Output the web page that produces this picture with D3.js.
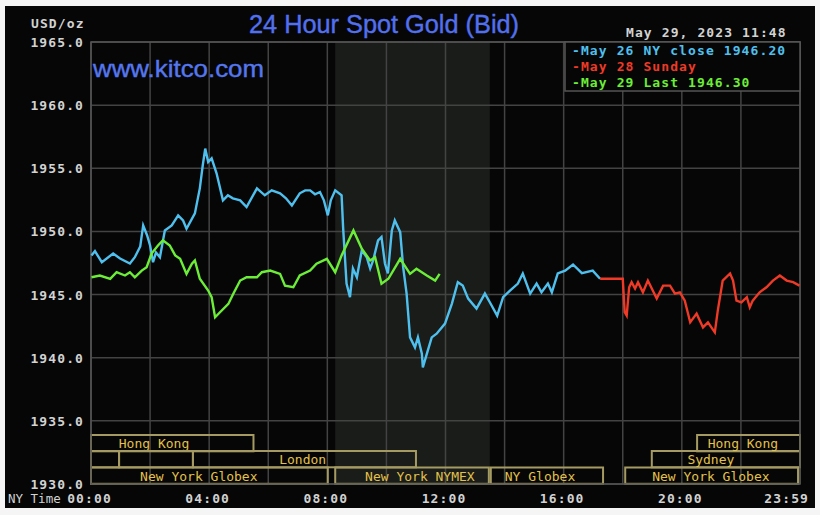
<!DOCTYPE html>
<html><head><meta charset="utf-8">
<script src="https://cdn.jsdelivr.net/npm/d3@7"></script>
<style>
html,body{margin:0;padding:0;background:#f5f5f5;}
svg{display:block;}
</style></head>
<body>
<svg id="c" width="820" height="515"></svg>
<script>
// ---- data (time as "HH:MM" NY time, value in USD/oz) ----
const yTicks = [1930, 1935, 1940, 1945, 1950, 1955, 1960, 1965];
const xTickLabels = ["00:00", "04:00", "08:00", "12:00", "16:00", "20:00", "23:59"];
const xTickMinutes = [0, 240, 480, 720, 960, 1200, 1439];
const legendLabels = ["May 26 NY close 1946.20", "May 28 Sunday", "May 29 Last 1946.30"];
const stamp = "May 29, 2023 11:48";

const may26Times = ["00:01","00:08","00:22","00:45","00:59","01:19","01:29","01:40","01:46","01:54","02:00","02:06","02:12","02:20","02:30","02:44","02:57","03:07","03:14","03:31","03:41","03:47","03:52","03:58","04:05","04:15","04:28","04:38","04:48","05:03","05:16","05:37","05:53","06:07","06:24","06:36","06:48","07:04","07:15","07:25","07:35","07:45","07:53","08:01","08:07","08:16","08:29","08:32","08:39","08:46","08:52","09:00","09:10","09:20","09:27","09:33","09:43","09:50","09:57","10:03","10:11","10:17","10:28","10:34","10:41","10:48","10:58","11:04","11:12","11:14","11:24","11:32","11:42","11:59","12:13","12:25","12:35","12:46","13:03","13:20","13:30","13:45","13:57","14:11","14:27","14:37","14:52","15:05","15:15","15:28","15:36","15:48","16:03","16:19","16:37","16:59","17:14"];
const may26Values = [1948.10,1948.44,1947.56,1948.25,1947.86,1947.46,1947.96,1948.81,1950.48,1949.68,1948.89,1947.56,1948.33,1947.96,1950.08,1950.48,1951.27,1950.87,1950.21,1951.43,1953.41,1955.24,1956.56,1955.50,1955.79,1954.60,1952.46,1952.86,1952.62,1952.46,1951.93,1953.41,1952.86,1953.25,1953.02,1952.62,1952.06,1953.02,1953.25,1953.25,1952.94,1953.12,1952.46,1951.27,1952.46,1953.25,1952.86,1950.34,1945.87,1944.79,1947.06,1946.37,1948.49,1947.96,1947.06,1947.70,1949.29,1949.55,1947.46,1946.67,1950.08,1950.87,1949.94,1947.17,1945.08,1941.61,1940.82,1941.61,1940.32,1939.23,1940.56,1941.61,1941.90,1942.70,1944.29,1945.98,1945.71,1944.68,1943.89,1945.08,1944.39,1943.33,1944.79,1945.32,1945.87,1946.67,1945.08,1945.87,1945.18,1945.87,1945.18,1946.67,1946.90,1947.38,1946.69,1946.90,1946.25];

const may28Times = ["17:14","18:00","18:04","18:08","18:13","18:18","18:25","18:31","18:41","18:51","19:09","19:22","19:36","19:46","19:56","20:06","20:17","20:30","20:43","20:53","21:07","21:13","21:23","21:38","21:44","21:51","22:01","22:12","22:18","22:24","22:38","22:52","23:05","23:19","23:33","23:46","23:59"];
const may28Values = [1946.25,1946.25,1943.60,1943.33,1945.58,1945.98,1945.48,1945.98,1945.18,1946.11,1944.68,1945.71,1945.71,1945.08,1945.18,1944.52,1942.80,1943.49,1942.40,1942.80,1942.01,1943.73,1946.11,1946.67,1946.11,1944.52,1944.39,1944.79,1943.99,1944.52,1945.18,1945.58,1946.11,1946.51,1946.11,1945.98,1945.71];

const may29Times = ["00:01","00:18","00:39","00:52","01:09","01:19","01:29","01:43","01:53","02:03","02:16","02:26","02:40","02:51","03:01","03:14","03:25","03:31","03:41","03:58","04:05","04:12","04:22","04:39","04:49","05:03","05:16","05:37","05:47","06:04","06:24","06:34","06:51","07:04","07:25","07:38","07:59","08:16","08:29","08:53","09:10","09:27","09:37","09:50","10:04","10:28","10:48","11:01","11:22","11:39","11:48"];
const may29Values = [1946.37,1946.51,1946.25,1946.77,1946.51,1946.77,1946.37,1946.90,1947.17,1948.25,1948.89,1949.29,1948.89,1948.10,1947.83,1946.64,1947.44,1947.70,1946.25,1945.32,1944.79,1943.20,1943.60,1944.26,1945.06,1946.11,1946.37,1946.37,1946.77,1946.90,1946.64,1945.71,1945.58,1946.51,1946.90,1947.44,1947.83,1946.77,1948.10,1950.08,1948.63,1947.70,1947.96,1945.85,1946.25,1947.83,1946.64,1947.04,1946.51,1946.11,1946.64];

// trading sessions: row, start, end, label anchor
const sessionNames = ["Hong Kong", "", "", "London", "New York Globex", "New York NYMEX", "NY Globex", "New York Globex", "Sydney", "Hong Kong"];
const sessionRows  = [0, 1, 1, 1, 2, 2, 2, 2, 1, 0];
const sessionStart = ["00:00","00:00","00:57","03:27","00:00","08:16","13:32","18:05","18:59","20:31"];
const sessionEnd   = ["05:30","00:57","03:27","11:00","08:01","13:28","17:20","23:56","24:00","24:00"];
const sessionLabelAt = ["02:08","","","07:10","03:39","11:08","15:12","20:59","20:59","22:04"];
const nymexShade = ["08:16", "13:30"];

// ---- drawing ----
const toMin = s => { const [h, m] = s.split(":").map(Number); return h * 60 + m; };
const svg = d3.select("#c");
const L = 91, R = 800, T = 42, B = 484;
const x = d3.scaleLinear().domain([0, 1440]).range([L, R]);
const y = d3.scaleLinear().domain([1930, 1965]).range([B, T]);
const mono = "'DejaVu Sans Mono', 'Liberation Mono', monospace";
const grey = "#d2d2d2";

svg.append("rect").attr("x", 5).attr("y", 6).attr("width", 810).attr("height", 502).attr("fill", "#060606");

// NYMEX shading
svg.append("rect").attr("x", x(toMin(nymexShade[0]))).attr("y", T)
  .attr("width", x(toMin(nymexShade[1])) - x(toMin(nymexShade[0]))).attr("height", B - T)
  .attr("fill", "#191c19");

// grid
const gridColor = "#434343";
svg.append("g").selectAll("line").data(d3.range(0, 1441, 120)).join("line")
  .attr("x1", d => x(d)).attr("x2", d => x(d)).attr("y1", T).attr("y2", B)
  .attr("stroke", gridColor).attr("stroke-width", 1.5);
svg.append("g").selectAll("line").data(yTicks).join("line")
  .attr("x1", L).attr("x2", R).attr("y1", d => y(d)).attr("y2", d => y(d))
  .attr("stroke", gridColor).attr("stroke-width", 1.5);

// sessions
const rowTop = [435, 451, 467.5];
const rowH = 16.3;
const sessCol = "#a59b62";
const sg = svg.append("g");
sessionNames.forEach((name, i) => {
  const x0 = x(toMin(sessionStart[i])), x1 = x(toMin(sessionEnd[i]));
  sg.append("rect").attr("x", x0).attr("y", rowTop[sessionRows[i]])
    .attr("width", x1 - x0).attr("height", rowH)
    .attr("fill", "none").attr("stroke", sessCol).attr("stroke-width", 2);
  if (name) sg.append("text").attr("x", x(toMin(sessionLabelAt[i])))
    .attr("y", rowTop[sessionRows[i]] + 13).attr("text-anchor", "middle")
    .attr("font-family", mono).attr("font-size", 13).attr("fill", "#e3c14a").text(name);
});

// plot border
svg.append("rect").attr("x", L).attr("y", T).attr("width", R - L).attr("height", B - T)
  .attr("fill", "none").attr("stroke", "#555").attr("stroke-width", 1.5);

// lines
const line = d3.line().x(d => x(d[0])).y(d => y(d[1]));
const series = [
  [may26Times, may26Values, "#4fc0ee"],
  [may28Times, may28Values, "#ee3a26"],
  [may29Times, may29Values, "#6cee38"]
];
series.forEach(([ts, vs, c]) => {
  const pts = ts.map((t, i) => [toMin(t), vs[i]]);
  svg.append("path").datum(pts).attr("d", line).attr("fill", "none")
    .attr("stroke", c).attr("stroke-width", 2.4).attr("stroke-linejoin", "miter");
});

// axes
const yAxis = d3.axisLeft(y).tickValues(yTicks).tickFormat(d3.format(".1f")).tickSize(0).tickPadding(7);
const ya = svg.append("g").attr("transform", `translate(${L},0)`).call(yAxis);
ya.select(".domain").remove();
ya.selectAll("text").attr("font-family", mono).attr("font-size", 13).attr("font-weight", "bold")
  .attr("fill", grey).attr("letter-spacing", 1.1).attr("dy", "0.35em");

const xAxis = d3.axisBottom(x).tickValues(xTickMinutes).tickFormat((d, i) => xTickLabels[i]).tickSize(0).tickPadding(0);
const xa = svg.append("g").attr("transform", `translate(0,${B})`).call(xAxis);
xa.select(".domain").remove();
xa.selectAll("text").attr("font-family", mono).attr("font-size", 13).attr("font-weight", "bold")
  .attr("fill", grey).attr("letter-spacing", 1.1).attr("y", 19).attr("dy", 0)
  .attr("text-anchor", (d, i) => i === xTickMinutes.length - 1 ? "end" : "middle")
  .attr("dx", (d, i) => i === xTickMinutes.length - 1 ? 9 : -2);

svg.append("text").attr("x", 8).attr("y", 503).attr("font-family", mono).attr("font-size", 12.5)
  .attr("fill", grey).text("NY Time");
svg.append("text").attr("x", 31).attr("y", 28).attr("font-family", mono).attr("font-size", 13)
  .attr("font-weight", "bold").attr("letter-spacing", 1.1).attr("fill", grey).text("USD/oz");
svg.append("text").attr("x", 626).attr("y", 37).attr("font-family", mono).attr("font-size", 13)
  .attr("font-weight", "bold").attr("letter-spacing", 1.1).attr("fill", grey).text(stamp);

// title and watermark
svg.append("text").attr("x", 249).attr("y", 33).attr("font-family", "'Liberation Sans', Arial, sans-serif")
  .attr("font-size", 25).attr("fill", "#5270ee").attr("stroke", "#5270ee").attr("stroke-width", 0.4)
  .attr("textLength", 270).attr("lengthAdjust", "spacingAndGlyphs")
  .text("24 Hour Spot Gold (Bid)");
svg.append("text").attr("x", 93).attr("y", 77).attr("font-family", "'Liberation Sans', Arial, sans-serif")
  .attr("font-size", 24).attr("fill", "#5577ee").attr("stroke", "#5577ee").attr("stroke-width", 0.4)
  .attr("textLength", 171).attr("lengthAdjust", "spacingAndGlyphs")
  .text("www.kitco.com");

// legend
svg.append("rect").attr("x", 565).attr("y", T).attr("width", R - 565).attr("height", 49)
  .attr("fill", "#060606").attr("stroke", "#555").attr("stroke-width", 1.5);
series.forEach(([, , c], i) => {
  svg.append("text").attr("x", 572).attr("y", 55 + i * 16).attr("font-family", mono)
    .attr("font-size", 13).attr("font-weight", "bold").attr("letter-spacing", 1.1).attr("fill", c)
    .text("-" + legendLabels[i]);
});
</script>
</body></html>
